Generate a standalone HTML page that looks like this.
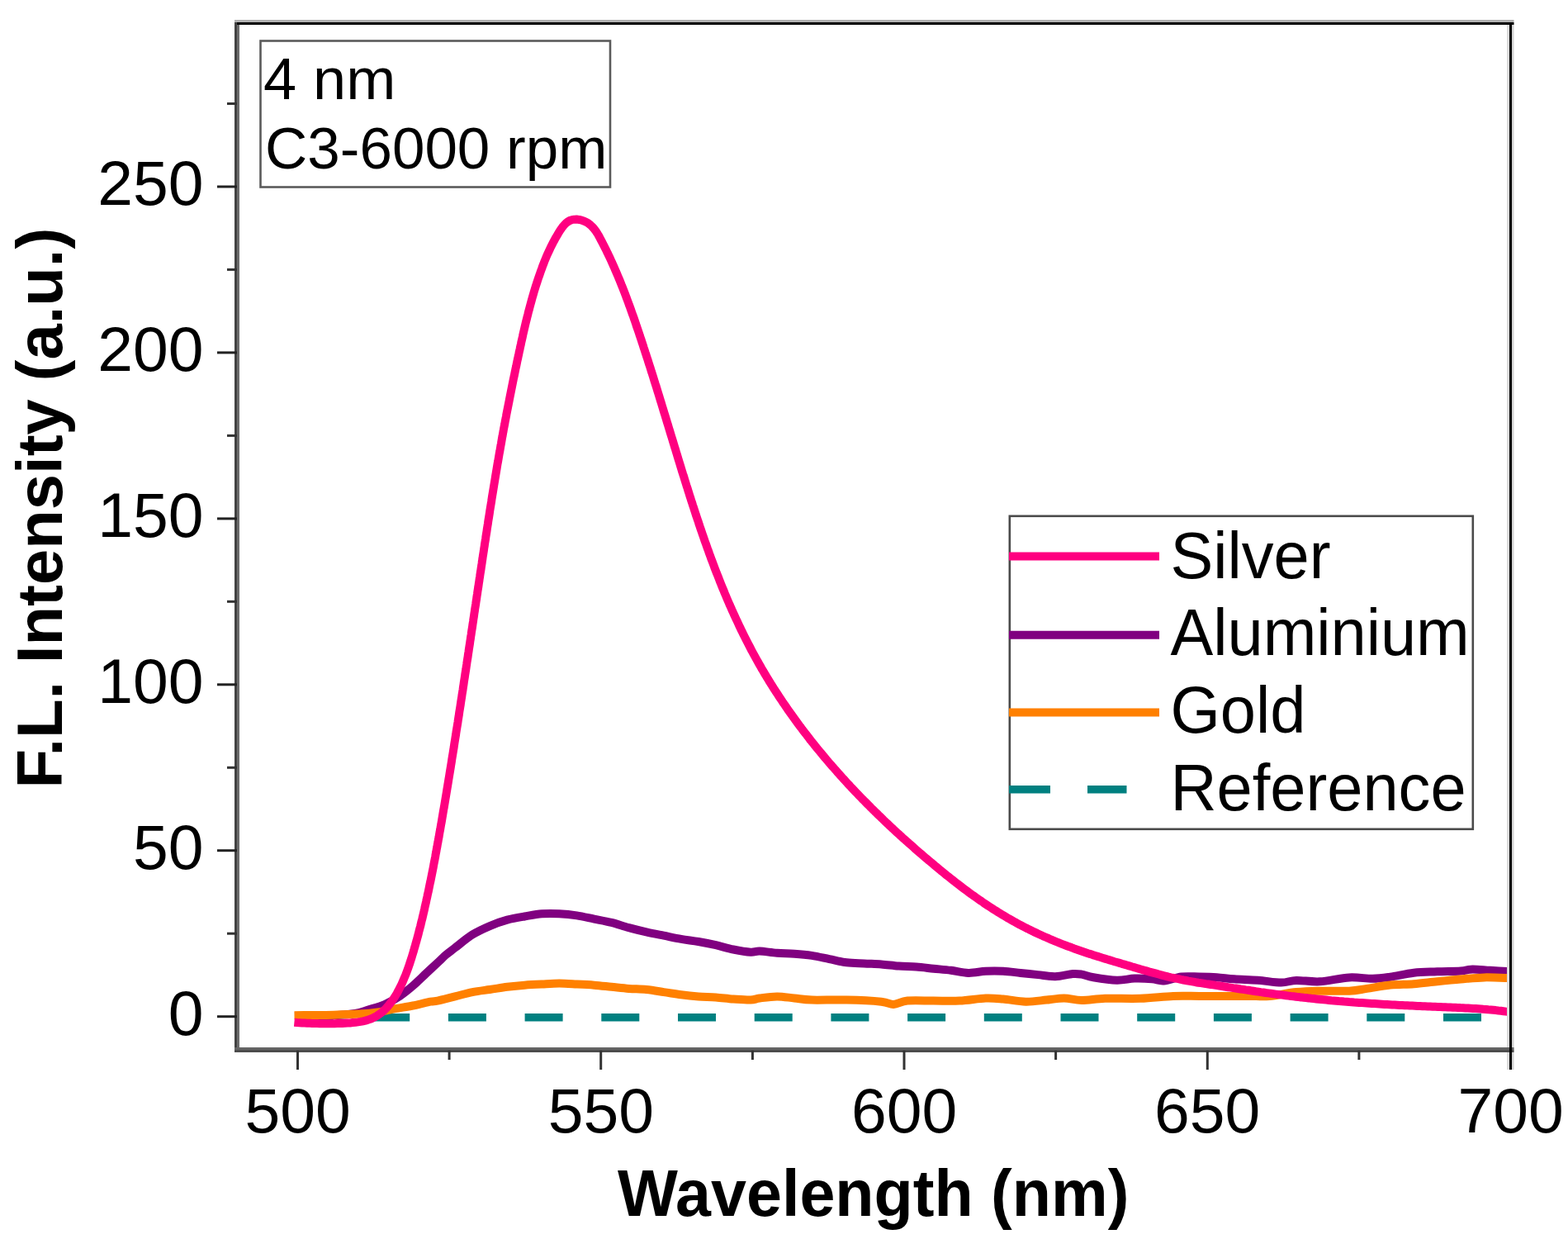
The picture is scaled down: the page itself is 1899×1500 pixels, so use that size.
<!DOCTYPE html><html><head><meta charset="utf-8"><title>F.L. Intensity vs Wavelength</title><style>
html,body{margin:0;padding:0;background:#fff;}body{width:1899px;height:1500px;overflow:hidden;}
svg{display:block;}text{font-family:"Liberation Sans", Arial, sans-serif;fill:#000;}
.tl{font-size:75px;}.ti{font-size:75px;font-weight:bold;}.lg{font-size:75px;}.in{font-size:71px;}
</style></head><body>
<svg width="1899" height="1500" viewBox="0 0 1899 1500">
<rect x="0" y="0" width="1899" height="1500" fill="#fff"/>
<g fill="none" stroke-linejoin="round">
<path d="M357.5,1231.7 L1830,1231.7" stroke="#008080" stroke-width="9.5" stroke-dasharray="46 46.7"/>
<path d="M357.0,1230.0 C364.2,1229.9 387.8,1230.0 400.0,1229.5 C412.2,1229.0 422.2,1228.2 430.0,1227.0 C437.8,1225.8 440.7,1224.1 446.7,1222.3 C452.7,1220.5 459.8,1218.7 466.0,1216.0 C472.2,1213.3 478.3,1209.8 484.0,1206.0 C489.7,1202.2 494.7,1198.1 500.0,1193.5 C505.3,1188.9 510.7,1183.5 516.0,1178.5 C521.3,1173.5 528.0,1167.3 532.0,1163.6 C536.0,1159.8 536.8,1158.7 540.0,1156.0 C543.2,1153.3 545.8,1151.5 551.1,1147.4 C556.5,1143.3 565.1,1136.0 572.1,1131.6 C579.1,1127.2 586.2,1124.1 593.2,1121.1 C600.2,1118.1 607.3,1115.6 614.3,1113.7 C621.3,1111.8 628.3,1110.7 635.3,1109.5 C642.3,1108.3 649.4,1106.8 656.4,1106.3 C663.4,1105.8 670.4,1105.9 677.4,1106.3 C684.4,1106.7 691.5,1107.4 698.5,1108.4 C705.5,1109.5 712.6,1111.2 719.6,1112.6 C726.6,1114.0 733.6,1115.1 740.6,1116.9 C747.6,1118.7 754.7,1121.3 761.7,1123.2 C768.7,1125.1 775.8,1126.8 782.8,1128.4 C789.8,1130.0 796.8,1131.3 803.8,1132.7 C810.8,1134.1 817.9,1135.7 824.9,1136.9 C831.9,1138.1 838.9,1138.8 845.9,1140.0 C852.9,1141.2 860.0,1142.6 867.0,1144.2 C874.0,1145.8 881.1,1148.1 888.1,1149.5 C895.1,1150.9 903.8,1152.4 909.1,1152.7 C914.4,1153.0 914.7,1151.4 920.0,1151.6 C925.3,1151.8 934.1,1153.2 941.1,1153.7 C948.1,1154.2 955.1,1154.3 962.1,1154.8 C969.1,1155.3 976.2,1155.9 983.2,1156.9 C990.2,1158.0 997.3,1159.7 1004.3,1161.1 C1011.3,1162.5 1018.3,1164.4 1025.3,1165.3 C1032.3,1166.2 1039.4,1166.1 1046.4,1166.4 C1053.4,1166.8 1060.4,1166.9 1067.4,1167.4 C1074.4,1167.9 1081.5,1169.0 1088.5,1169.5 C1095.5,1170.0 1102.6,1170.1 1109.6,1170.6 C1116.6,1171.1 1123.6,1172.0 1130.6,1172.7 C1137.6,1173.4 1144.7,1173.9 1151.7,1174.8 C1158.7,1175.7 1165.8,1177.7 1172.8,1177.9 C1179.8,1178.1 1186.8,1176.2 1193.8,1175.8 C1200.8,1175.4 1207.9,1175.4 1214.9,1175.8 C1221.9,1176.2 1229.0,1177.2 1236.0,1177.9 C1243.0,1178.6 1250.0,1179.4 1257.0,1180.1 C1264.0,1180.8 1271.1,1182.4 1278.1,1182.2 C1285.1,1182.0 1293.8,1179.4 1299.1,1179.0 C1304.4,1178.6 1305.8,1178.9 1310.0,1179.6 C1314.2,1180.3 1317.1,1182.0 1324.2,1183.2 C1331.3,1184.4 1344.4,1186.5 1352.7,1186.7 C1361.0,1186.9 1366.9,1184.8 1374.0,1184.6 C1381.1,1184.4 1389.4,1184.8 1395.3,1185.3 C1401.2,1185.8 1403.6,1187.9 1409.5,1187.4 C1415.4,1186.9 1423.8,1183.3 1430.9,1182.5 C1438.0,1181.7 1445.1,1182.4 1452.2,1182.5 C1459.3,1182.6 1466.4,1182.7 1473.5,1183.2 C1480.6,1183.7 1486.5,1184.7 1494.8,1185.3 C1503.1,1185.9 1513.8,1186.0 1523.3,1186.7 C1532.8,1187.4 1543.9,1189.6 1551.7,1189.6 C1559.5,1189.6 1562.2,1187.1 1570.0,1186.9 C1577.8,1186.7 1587.7,1188.9 1598.4,1188.3 C1609.1,1187.7 1623.3,1184.0 1634.0,1183.4 C1644.7,1182.8 1654.1,1184.9 1662.4,1184.8 C1670.7,1184.7 1675.4,1183.9 1683.7,1182.7 C1692.0,1181.5 1702.7,1178.8 1712.2,1177.7 C1721.7,1176.6 1731.1,1176.7 1740.6,1176.3 C1750.1,1175.9 1762.0,1176.0 1769.1,1175.5 C1776.2,1175.0 1777.4,1173.5 1783.3,1173.4 C1789.2,1173.3 1796.8,1174.3 1804.6,1174.8 C1812.4,1175.3 1825.8,1176.0 1830.0,1176.3" stroke="#800080" stroke-width="10"/>
<path d="M356.5,1229.2 C364.4,1229.1 390.8,1229.0 404.0,1228.7 C417.2,1228.4 427.1,1228.1 436.0,1227.6 C444.9,1227.1 450.2,1226.6 457.3,1225.5 C464.4,1224.4 471.6,1222.5 478.7,1221.2 C485.8,1219.9 492.9,1218.9 500.0,1217.5 C507.1,1216.1 516.3,1213.7 521.3,1212.7 C526.3,1211.7 525.0,1212.6 530.0,1211.6 C535.0,1210.5 544.1,1208.2 551.1,1206.4 C558.1,1204.7 565.1,1202.5 572.1,1201.1 C579.1,1199.7 586.2,1199.0 593.2,1198.0 C600.2,1197.0 607.3,1195.7 614.3,1194.8 C621.3,1193.9 628.3,1193.2 635.3,1192.7 C642.3,1192.2 649.4,1191.9 656.4,1191.6 C663.4,1191.2 670.4,1190.6 677.4,1190.6 C684.4,1190.6 691.5,1191.2 698.5,1191.6 C705.5,1191.9 712.6,1192.2 719.6,1192.7 C726.6,1193.2 733.6,1194.1 740.6,1194.8 C747.6,1195.5 754.7,1196.4 761.7,1196.9 C768.7,1197.4 775.8,1197.3 782.8,1198.0 C789.8,1198.7 796.8,1200.0 803.8,1201.1 C810.8,1202.1 817.9,1203.4 824.9,1204.3 C831.9,1205.2 838.9,1205.9 845.9,1206.4 C852.9,1206.9 860.0,1206.9 867.0,1207.4 C874.0,1207.9 881.1,1209.0 888.1,1209.5 C895.1,1210.0 903.8,1210.8 909.1,1210.6 C914.4,1210.4 914.7,1209.2 920.0,1208.5 C925.3,1207.8 934.1,1206.4 941.1,1206.4 C948.1,1206.4 955.1,1207.8 962.1,1208.5 C969.1,1209.2 972.7,1210.2 983.2,1210.6 C993.7,1210.9 1011.3,1210.2 1025.3,1210.6 C1039.3,1210.9 1057.9,1211.8 1067.4,1212.7 C1076.9,1213.6 1076.9,1216.1 1082.2,1215.9 C1087.5,1215.7 1090.9,1212.3 1099.0,1211.6 C1107.1,1210.9 1120.1,1211.6 1130.6,1211.6 C1141.1,1211.6 1151.7,1212.1 1162.2,1211.6 C1172.7,1211.1 1185.0,1208.8 1193.8,1208.5 C1202.6,1208.2 1206.8,1208.8 1214.9,1209.5 C1223.0,1210.2 1233.5,1212.5 1242.3,1212.7 C1251.1,1212.9 1259.9,1211.3 1267.6,1210.6 C1275.3,1209.9 1281.5,1208.5 1288.6,1208.5 C1295.7,1208.5 1301.7,1210.9 1310.0,1210.9 C1318.3,1211.0 1326.6,1209.2 1338.4,1208.8 C1350.2,1208.4 1367.3,1209.3 1381.1,1208.8 C1394.8,1208.3 1409.1,1206.4 1420.9,1205.9 C1432.8,1205.4 1442.2,1205.9 1452.2,1205.9 C1462.2,1205.9 1470.6,1205.9 1480.6,1205.9 C1490.5,1205.9 1502.4,1205.9 1511.9,1205.9 C1521.4,1205.9 1527.8,1206.8 1537.5,1206.0 C1547.2,1205.2 1559.8,1202.1 1570.0,1201.1 C1580.2,1200.0 1587.7,1199.9 1598.4,1199.7 C1609.1,1199.5 1624.5,1200.2 1634.0,1199.7 C1643.5,1199.2 1647.0,1198.1 1655.3,1196.9 C1663.6,1195.7 1674.2,1193.5 1683.7,1192.6 C1693.2,1191.6 1702.7,1191.9 1712.2,1191.2 C1721.7,1190.5 1731.1,1189.2 1740.6,1188.3 C1750.1,1187.3 1759.6,1186.3 1769.1,1185.5 C1778.6,1184.7 1787.3,1183.6 1797.5,1183.4 C1807.7,1183.2 1824.6,1184.0 1830.0,1184.1" stroke="#ff8000" stroke-width="10"/>
<path d="M356.4,1237.7 L359.6,1238.0 L362.7,1238.2 L365.8,1238.4 L368.9,1238.5 L372.0,1238.7 L375.0,1238.8 L378.1,1238.9 L381.1,1239.0 L384.1,1239.1 L387.1,1239.2 L390.2,1239.2 L393.2,1239.2 L396.2,1239.3 L399.2,1239.2 L402.3,1239.2 L405.3,1239.2 L408.4,1239.1 L411.5,1239.0 L414.6,1238.9 L417.7,1238.8 L420.9,1238.6 L424.1,1238.4 L427.2,1238.1 L430.4,1237.8 L433.5,1237.4 L436.6,1236.9 L439.6,1236.3 L442.6,1235.6 L445.6,1234.7 L448.4,1233.8 L451.2,1232.6 L453.8,1231.3 L456.4,1229.9 L458.9,1228.2 L461.3,1226.5 L463.6,1224.6 L465.8,1222.5 L467.9,1220.4 L469.9,1218.1 L471.8,1215.8 L473.7,1213.4 L475.5,1210.9 L477.2,1208.3 L478.9,1205.6 L480.5,1203.0 L482.0,1200.3 L483.4,1197.5 L484.8,1194.7 L486.2,1192.0 L487.5,1189.1 L488.7,1186.3 L489.9,1183.4 L491.1,1180.6 L492.2,1177.7 L493.3,1174.8 L494.4,1171.8 L495.4,1168.9 L496.4,1166.0 L497.3,1163.0 L498.3,1160.1 L499.2,1157.1 L500.1,1154.1 L501.0,1151.2 L501.8,1148.2 L502.7,1145.2 L503.5,1142.3 L504.4,1139.3 L505.2,1136.3 L506.0,1133.4 L506.8,1130.4 L507.5,1127.4 L508.3,1124.4 L509.1,1121.5 L509.8,1118.5 L510.5,1115.5 L511.3,1112.5 L512.0,1109.5 L512.7,1106.6 L513.4,1103.6 L514.1,1100.6 L514.7,1097.6 L515.4,1094.6 L516.1,1091.6 L516.7,1088.6 L517.4,1085.6 L518.0,1082.6 L518.7,1079.7 L519.3,1076.7 L519.9,1073.7 L520.5,1070.7 L521.2,1067.7 L521.8,1064.7 L522.4,1061.7 L523.0,1058.7 L523.6,1055.7 L524.2,1052.7 L524.8,1049.7 L525.3,1046.7 L525.9,1043.7 L526.5,1040.7 L527.1,1037.6 L527.6,1034.6 L528.2,1031.6 L528.7,1028.6 L529.3,1025.6 L529.8,1022.6 L530.4,1019.6 L530.9,1016.6 L531.5,1013.6 L532.0,1010.5 L532.5,1007.5 L533.1,1004.5 L533.6,1001.5 L534.1,998.5 L534.7,995.5 L535.2,992.4 L535.7,989.4 L536.2,986.4 L536.7,983.4 L537.2,980.4 L537.8,977.3 L538.3,974.3 L538.8,971.3 L539.3,968.3 L539.8,965.2 L540.3,962.2 L540.8,959.2 L541.3,956.1 L541.8,953.1 L542.3,950.1 L542.8,947.1 L543.3,944.0 L543.8,941.0 L544.3,938.0 L544.8,934.9 L545.3,931.9 L545.8,928.9 L546.3,925.8 L546.8,922.8 L547.2,919.8 L547.7,916.7 L548.2,913.7 L548.7,910.7 L549.2,907.6 L549.7,904.6 L550.1,901.6 L550.6,898.5 L551.1,895.5 L551.6,892.4 L552.1,889.4 L552.5,886.4 L553.0,883.3 L553.5,880.3 L554.0,877.2 L554.5,874.2 L554.9,871.2 L555.4,868.1 L555.9,865.1 L556.3,862.0 L556.8,859.0 L557.3,856.0 L557.8,852.9 L558.2,849.9 L558.7,846.8 L559.2,843.8 L559.6,840.7 L560.1,837.7 L560.6,834.7 L561.0,831.6 L561.5,828.6 L561.9,825.5 L562.4,822.5 L562.9,819.4 L563.3,816.4 L563.8,813.4 L564.3,810.3 L564.7,807.3 L565.2,804.2 L565.6,801.2 L566.1,798.1 L566.6,795.1 L567.0,792.0 L567.5,789.0 L567.9,786.0 L568.4,782.9 L568.9,779.9 L569.3,776.8 L569.8,773.8 L570.2,770.7 L570.7,767.7 L571.1,764.6 L571.6,761.6 L572.1,758.6 L572.5,755.5 L573.0,752.5 L573.4,749.4 L573.9,746.4 L574.3,743.3 L574.8,740.3 L575.2,737.2 L575.7,734.2 L576.2,731.2 L576.6,728.1 L577.1,725.1 L577.5,722.0 L578.0,719.0 L578.4,716.0 L578.9,712.9 L579.4,709.9 L579.8,706.8 L580.3,703.8 L580.7,700.7 L581.2,697.7 L581.6,694.7 L582.1,691.6 L582.6,688.6 L583.0,685.6 L583.5,682.5 L583.9,679.5 L584.4,676.4 L584.8,673.4 L585.3,670.4 L585.8,667.3 L586.2,664.3 L586.7,661.3 L587.1,658.2 L587.6,655.2 L588.1,652.2 L588.5,649.1 L589.0,646.1 L589.5,643.1 L589.9,640.0 L590.4,637.0 L590.9,634.0 L591.3,630.9 L591.8,627.9 L592.3,624.9 L592.8,621.8 L593.2,618.8 L593.7,615.8 L594.2,612.7 L594.7,609.7 L595.2,606.7 L595.6,603.7 L596.1,600.6 L596.6,597.6 L597.1,594.6 L597.6,591.6 L598.1,588.5 L598.6,585.5 L599.1,582.5 L599.6,579.5 L600.1,576.4 L600.6,573.4 L601.1,570.4 L601.6,567.4 L602.1,564.3 L602.6,561.3 L603.2,558.3 L603.7,555.3 L604.2,552.2 L604.7,549.2 L605.3,546.2 L605.8,543.2 L606.3,540.2 L606.9,537.1 L607.4,534.1 L607.9,531.1 L608.5,528.1 L609.0,525.1 L609.6,522.0 L610.1,519.0 L610.7,516.0 L611.3,513.0 L611.8,510.0 L612.4,507.0 L613.0,503.9 L613.5,500.9 L614.1,497.9 L614.7,494.9 L615.3,491.9 L615.9,488.9 L616.5,485.9 L617.1,482.8 L617.7,479.8 L618.3,476.8 L618.9,473.8 L619.5,470.8 L620.1,467.8 L620.7,464.8 L621.3,461.8 L621.9,458.7 L622.6,455.7 L623.2,452.7 L623.8,449.7 L624.4,446.7 L625.1,443.7 L625.7,440.7 L626.3,437.7 L627.0,434.7 L627.6,431.7 L628.3,428.6 L628.9,425.6 L629.6,422.6 L630.2,419.6 L630.9,416.6 L631.5,413.6 L632.2,410.6 L632.9,407.6 L633.5,404.6 L634.2,401.6 L634.9,398.6 L635.6,395.6 L636.3,392.6 L637.0,389.6 L637.8,386.7 L638.5,383.7 L639.3,380.7 L640.0,377.7 L640.8,374.8 L641.6,371.8 L642.4,368.8 L643.2,365.9 L644.0,362.9 L644.8,360.0 L645.7,357.0 L646.5,354.1 L647.4,351.1 L648.3,348.2 L649.2,345.3 L650.2,342.4 L651.1,339.5 L652.1,336.5 L653.1,333.7 L654.1,330.8 L655.1,327.9 L656.2,325.0 L657.2,322.1 L658.3,319.3 L659.4,316.4 L660.6,313.6 L661.8,310.7 L663.0,307.9 L664.3,305.1 L665.6,302.3 L666.9,299.5 L668.3,296.7 L669.7,293.9 L671.2,291.2 L672.7,288.4 L674.3,285.7 L675.9,282.9 L677.6,280.2 L679.3,277.6 L681.1,275.0 L683.1,272.6 L685.2,270.4 L687.4,268.6 L689.9,267.1 L692.6,266.2 L695.4,265.7 L698.4,265.6 L701.4,265.9 L704.4,266.6 L707.4,267.7 L710.2,269.0 L712.8,270.6 L715.2,272.5 L717.4,274.6 L719.4,276.9 L721.3,279.3 L723.0,281.9 L724.6,284.5 L726.1,287.2 L727.5,290.0 L729.0,292.7 L730.4,295.5 L731.8,298.3 L733.2,301.1 L734.6,303.8 L735.9,306.6 L737.3,309.4 L738.6,312.2 L739.9,315.0 L741.2,317.8 L742.4,320.6 L743.7,323.4 L744.9,326.2 L746.1,329.0 L747.3,331.8 L748.5,334.6 L749.7,337.5 L750.9,340.3 L752.0,343.1 L753.1,346.0 L754.3,348.8 L755.4,351.6 L756.5,354.5 L757.6,357.3 L758.6,360.2 L759.7,363.0 L760.8,365.9 L761.8,368.8 L762.9,371.6 L763.9,374.5 L764.9,377.4 L765.9,380.2 L767.0,383.1 L768.0,386.0 L769.0,388.9 L770.0,391.8 L770.9,394.7 L771.9,397.5 L772.9,400.4 L773.9,403.3 L774.8,406.2 L775.8,409.1 L776.8,412.0 L777.7,414.9 L778.7,417.8 L779.6,420.8 L780.6,423.7 L781.5,426.6 L782.5,429.5 L783.4,432.4 L784.4,435.3 L785.3,438.3 L786.2,441.2 L787.2,444.1 L788.1,447.0 L789.0,450.0 L790.0,452.9 L790.9,455.8 L791.8,458.7 L792.7,461.7 L793.6,464.6 L794.6,467.5 L795.5,470.5 L796.4,473.4 L797.3,476.4 L798.2,479.3 L799.1,482.2 L800.0,485.2 L800.9,488.1 L801.8,491.1 L802.7,494.0 L803.6,497.0 L804.5,499.9 L805.4,502.8 L806.3,505.8 L807.2,508.7 L808.1,511.7 L809.0,514.6 L809.9,517.6 L810.8,520.5 L811.7,523.5 L812.6,526.4 L813.5,529.4 L814.4,532.3 L815.3,535.3 L816.2,538.2 L817.1,541.2 L818.0,544.1 L818.9,547.1 L819.8,550.0 L820.7,553.0 L821.6,555.9 L822.5,558.9 L823.4,561.8 L824.3,564.8 L825.2,567.7 L826.1,570.7 L827.0,573.6 L828.0,576.5 L828.9,579.5 L829.8,582.4 L830.7,585.4 L831.6,588.3 L832.6,591.2 L833.5,594.2 L834.4,597.1 L835.3,600.1 L836.3,603.0 L837.2,605.9 L838.2,608.9 L839.1,611.8 L840.1,614.7 L841.0,617.6 L842.0,620.6 L842.9,623.5 L843.9,626.4 L844.9,629.3 L845.9,632.2 L846.8,635.2 L847.8,638.1 L848.8,641.0 L849.8,643.9 L850.8,646.8 L851.8,649.7 L852.8,652.6 L853.8,655.5 L854.9,658.4 L855.9,661.3 L856.9,664.2 L858.0,667.1 L859.0,670.0 L860.1,672.9 L861.1,675.8 L862.2,678.6 L863.3,681.5 L864.4,684.4 L865.4,687.3 L866.5,690.1 L867.6,693.0 L868.8,695.9 L869.9,698.7 L871.0,701.6 L872.1,704.4 L873.3,707.3 L874.4,710.1 L875.6,713.0 L876.8,715.8 L877.9,718.6 L879.1,721.4 L880.3,724.3 L881.5,727.1 L882.7,729.9 L883.9,732.7 L885.2,735.5 L886.4,738.3 L887.7,741.1 L888.9,743.9 L890.2,746.7 L891.5,749.5 L892.8,752.2 L894.1,755.0 L895.4,757.8 L896.7,760.5 L898.0,763.3 L899.4,766.1 L900.7,768.8 L902.1,771.5 L903.5,774.3 L904.9,777.0 L906.3,779.7 L907.7,782.4 L909.1,785.1 L910.5,787.9 L912.0,790.6 L913.4,793.2 L914.9,795.9 L916.4,798.6 L917.9,801.3 L919.4,804.0 L920.9,806.6 L922.4,809.3 L924.0,811.9 L925.6,814.6 L927.1,817.2 L928.7,819.8 L930.3,822.4 L931.9,825.1 L933.5,827.7 L935.2,830.3 L936.8,832.9 L938.5,835.5 L940.1,838.0 L941.8,840.6 L943.5,843.2 L945.2,845.8 L946.9,848.3 L948.6,850.9 L950.4,853.4 L952.1,855.9 L953.8,858.5 L955.6,861.0 L957.4,863.5 L959.2,866.0 L961.0,868.5 L962.8,871.0 L964.6,873.5 L966.4,876.0 L968.2,878.4 L970.1,880.9 L971.9,883.4 L973.8,885.8 L975.7,888.3 L977.6,890.7 L979.4,893.1 L981.3,895.6 L983.2,898.0 L985.2,900.4 L987.1,902.8 L989.0,905.2 L991.0,907.6 L992.9,909.9 L994.9,912.3 L996.9,914.7 L998.8,917.0 L1000.8,919.4 L1002.8,921.7 L1004.8,924.1 L1006.8,926.4 L1008.8,928.7 L1010.9,931.0 L1012.9,933.3 L1014.9,935.6 L1017.0,937.9 L1019.0,940.2 L1021.1,942.5 L1023.2,944.7 L1025.2,947.0 L1027.3,949.3 L1029.4,951.5 L1031.5,953.8 L1033.6,956.0 L1035.7,958.2 L1037.8,960.4 L1040.0,962.7 L1042.1,964.9 L1044.2,967.1 L1046.4,969.3 L1048.5,971.4 L1050.7,973.6 L1052.9,975.8 L1055.0,978.0 L1057.2,980.1 L1059.4,982.3 L1061.6,984.4 L1063.8,986.6 L1066.0,988.7 L1068.2,990.8 L1070.4,993.0 L1072.6,995.1 L1074.9,997.2 L1077.1,999.3 L1079.3,1001.4 L1081.6,1003.5 L1083.8,1005.6 L1086.1,1007.7 L1088.4,1009.7 L1090.6,1011.8 L1092.9,1013.9 L1095.2,1015.9 L1097.5,1018.0 L1099.8,1020.0 L1102.1,1022.1 L1104.4,1024.1 L1106.7,1026.1 L1109.0,1028.2 L1111.3,1030.2 L1113.6,1032.2 L1116.0,1034.2 L1118.3,1036.2 L1120.6,1038.2 L1123.0,1040.2 L1125.3,1042.2 L1127.7,1044.1 L1130.0,1046.1 L1132.4,1048.1 L1134.8,1050.0 L1137.1,1052.0 L1139.5,1054.0 L1141.9,1055.9 L1144.3,1057.8 L1146.7,1059.8 L1149.1,1061.7 L1151.5,1063.6 L1153.9,1065.5 L1156.3,1067.4 L1158.7,1069.3 L1161.2,1071.1 L1163.6,1073.0 L1166.1,1074.9 L1168.5,1076.7 L1171.0,1078.5 L1173.5,1080.4 L1175.9,1082.2 L1178.4,1084.0 L1180.9,1085.7 L1183.4,1087.5 L1186.0,1089.3 L1188.5,1091.0 L1191.0,1092.8 L1193.5,1094.5 L1196.1,1096.2 L1198.7,1097.9 L1201.2,1099.5 L1203.8,1101.2 L1206.4,1102.8 L1209.0,1104.5 L1211.6,1106.1 L1214.2,1107.7 L1216.9,1109.2 L1219.5,1110.8 L1222.2,1112.3 L1224.9,1113.9 L1227.5,1115.4 L1230.2,1116.8 L1232.9,1118.3 L1235.6,1119.8 L1238.4,1121.2 L1241.1,1122.6 L1243.8,1124.0 L1246.6,1125.4 L1249.4,1126.7 L1252.1,1128.1 L1254.9,1129.4 L1257.7,1130.7 L1260.5,1132.0 L1263.3,1133.3 L1266.1,1134.5 L1268.9,1135.7 L1271.8,1137.0 L1274.6,1138.2 L1277.4,1139.3 L1280.3,1140.5 L1283.1,1141.7 L1286.0,1142.8 L1288.8,1143.9 L1291.7,1145.0 L1294.6,1146.1 L1297.5,1147.1 L1300.3,1148.2 L1303.2,1149.2 L1306.1,1150.2 L1309.0,1151.2 L1311.9,1152.2 L1314.8,1153.2 L1317.7,1154.2 L1320.6,1155.1 L1323.5,1156.1 L1326.4,1157.0 L1329.4,1157.9 L1332.3,1158.8 L1335.2,1159.7 L1338.1,1160.6 L1341.1,1161.5 L1344.0,1162.4 L1346.9,1163.3 L1349.9,1164.2 L1352.8,1165.0 L1355.8,1165.9 L1358.7,1166.8 L1361.7,1167.6 L1364.6,1168.5 L1367.6,1169.4 L1370.6,1170.3 L1373.5,1171.1 L1376.5,1172.0 L1379.5,1172.9 L1382.4,1173.7 L1385.4,1174.6 L1388.4,1175.4 L1391.3,1176.3 L1394.3,1177.1 L1397.3,1177.9 L1400.3,1178.7 L1403.3,1179.5 L1406.3,1180.3 L1409.3,1181.1 L1412.2,1181.8 L1415.2,1182.6 L1418.2,1183.3 L1421.2,1183.9 L1424.2,1184.6 L1427.2,1185.2 L1430.2,1185.9 L1433.2,1186.5 L1436.2,1187.0 L1439.2,1187.6 L1442.2,1188.1 L1445.3,1188.6 L1448.3,1189.2 L1451.3,1189.7 L1454.3,1190.1 L1457.3,1190.6 L1460.3,1191.1 L1463.3,1191.5 L1466.4,1192.0 L1469.4,1192.4 L1472.4,1192.9 L1475.4,1193.3 L1478.4,1193.8 L1481.5,1194.2 L1484.5,1194.7 L1487.5,1195.2 L1490.5,1195.6 L1493.6,1196.1 L1496.6,1196.5 L1499.6,1197.0 L1502.7,1197.5 L1505.7,1197.9 L1508.7,1198.4 L1511.8,1198.8 L1514.8,1199.3 L1517.8,1199.7 L1520.9,1200.2 L1523.9,1200.6 L1527.0,1201.1 L1530.0,1201.5 L1533.0,1202.0 L1536.1,1202.4 L1539.1,1202.8 L1542.2,1203.2 L1545.2,1203.6 L1548.3,1204.0 L1551.3,1204.4 L1554.4,1204.8 L1557.4,1205.2 L1560.5,1205.6 L1563.5,1206.0 L1566.6,1206.3 L1569.6,1206.7 L1572.7,1207.1 L1575.7,1207.4 L1578.8,1207.8 L1581.8,1208.1 L1584.9,1208.4 L1588.0,1208.8 L1591.0,1209.1 L1594.1,1209.4 L1597.1,1209.7 L1600.2,1210.0 L1603.3,1210.3 L1606.3,1210.6 L1609.4,1210.9 L1612.4,1211.2 L1615.5,1211.4 L1618.6,1211.7 L1621.6,1212.0 L1624.7,1212.2 L1627.7,1212.5 L1630.8,1212.7 L1633.9,1213.0 L1636.9,1213.2 L1640.0,1213.5 L1643.1,1213.7 L1646.1,1213.9 L1649.2,1214.1 L1652.3,1214.3 L1655.3,1214.5 L1658.4,1214.7 L1661.5,1214.9 L1664.5,1215.1 L1667.6,1215.3 L1670.7,1215.5 L1673.7,1215.7 L1676.8,1215.9 L1679.9,1216.0 L1682.9,1216.2 L1686.0,1216.4 L1689.1,1216.5 L1692.1,1216.7 L1695.2,1216.9 L1698.3,1217.0 L1701.3,1217.2 L1704.4,1217.3 L1707.5,1217.5 L1710.5,1217.6 L1713.6,1217.7 L1716.7,1217.9 L1719.8,1218.0 L1722.8,1218.2 L1725.9,1218.3 L1729.0,1218.4 L1732.0,1218.5 L1735.1,1218.7 L1738.2,1218.8 L1741.2,1218.9 L1744.3,1219.0 L1747.4,1219.2 L1750.4,1219.3 L1753.5,1219.4 L1756.5,1219.5 L1759.6,1219.7 L1762.7,1219.8 L1765.7,1219.9 L1768.8,1220.1 L1771.9,1220.2 L1774.9,1220.4 L1778.0,1220.5 L1781.1,1220.7 L1784.1,1220.9 L1787.2,1221.1 L1790.2,1221.3 L1793.3,1221.5 L1796.4,1221.8 L1799.4,1222.0 L1802.5,1222.3 L1805.5,1222.5 L1808.6,1222.8 L1811.6,1223.1 L1814.7,1223.5 L1817.8,1223.8 L1820.8,1224.2 L1823.9,1224.6 L1826.9,1225.0 L1830.0,1225.5" stroke="#ff0080" stroke-width="10"/>
</g>
<rect x="284" y="24" width="1547" height="3" fill="#b0b0b0"/>
<rect x="284" y="27" width="1547" height="3" fill="#000"/>
<rect x="284" y="27" width="3" height="1247" fill="#424242"/>
<rect x="287" y="30" width="3" height="1244" fill="#6b6b6b"/>
<rect x="1825" y="30" width="3" height="1265" fill="#dcdcdc"/>
<rect x="1831" y="30" width="2.5" height="1265" fill="#d4d4d4"/>
<rect x="1828" y="27" width="5.5" height="3" fill="#000"/>
<rect x="1828" y="24" width="5.5" height="3" fill="#b0b0b0"/>
<rect x="284" y="1268" width="1549.5" height="3" fill="#646464"/>
<rect x="284" y="1271" width="1549.5" height="3" fill="#4c4c4c"/>
<rect x="263" y="1229.2" width="24" height="3" fill="#222"/>
<text class="tl" transform="translate(246.5,1252.7) scale(1.025,1.015)" text-anchor="end">0</text>
<rect x="275" y="1128.7" width="12" height="3" fill="#333"/>
<rect x="263" y="1028.2" width="24" height="3" fill="#222"/>
<text class="tl" transform="translate(246.5,1051.8) scale(1.025,1.015)" text-anchor="end">50</text>
<rect x="275" y="927.8" width="12" height="3" fill="#333"/>
<rect x="263" y="827.3" width="24" height="3" fill="#222"/>
<text class="tl" transform="translate(246.5,850.8) scale(1.025,1.015)" text-anchor="end">100</text>
<rect x="275" y="726.8" width="12" height="3" fill="#333"/>
<rect x="263" y="626.4" width="24" height="3" fill="#222"/>
<text class="tl" transform="translate(246.5,649.9) scale(1.025,1.015)" text-anchor="end">150</text>
<rect x="275" y="525.9" width="12" height="3" fill="#333"/>
<rect x="263" y="425.4" width="24" height="3" fill="#222"/>
<text class="tl" transform="translate(246.5,448.9) scale(1.025,1.015)" text-anchor="end">200</text>
<rect x="275" y="324.9" width="12" height="3" fill="#333"/>
<rect x="263" y="224.5" width="24" height="3" fill="#222"/>
<text class="tl" transform="translate(246.5,248.0) scale(1.025,1.015)" text-anchor="end">250</text>
<rect x="275" y="124.0" width="12" height="3" fill="#333"/>
<rect x="359.0" y="1272" width="3" height="23" fill="#333"/>
<text class="tl" transform="translate(360.5,1370.5) scale(1.025,1.015)" text-anchor="middle">500</text>
<rect x="542.6" y="1272" width="3" height="11" fill="#333"/>
<rect x="726.2" y="1272" width="3" height="23" fill="#333"/>
<text class="tl" transform="translate(727.8,1370.5) scale(1.025,1.015)" text-anchor="middle">550</text>
<rect x="909.9" y="1272" width="3" height="11" fill="#333"/>
<rect x="1093.5" y="1272" width="3" height="23" fill="#333"/>
<text class="tl" transform="translate(1095.0,1370.5) scale(1.025,1.015)" text-anchor="middle">600</text>
<rect x="1277.1" y="1272" width="3" height="11" fill="#333"/>
<rect x="1460.8" y="1272" width="3" height="23" fill="#333"/>
<text class="tl" transform="translate(1462.2,1370.5) scale(1.025,1.015)" text-anchor="middle">650</text>
<rect x="1644.4" y="1272" width="3" height="11" fill="#333"/>
<rect x="1828.0" y="1272" width="3" height="23" fill="#333"/>
<text class="tl" transform="translate(1829.5,1370.5) scale(1.025,1.015)" text-anchor="middle">700</text>
<rect x="1828" y="27" width="3" height="1268" fill="#000"/>
<text class="ti" transform="translate(748,1472) scale(1.03,1.05)">Wavelength (nm)</text>
<text class="ti" transform="translate(74.5,954.5) rotate(-90) scale(1.038,1.04)">F.L. Intensity (a.u.)</text>
<rect x="315.5" y="49.5" width="423.5" height="177" fill="none" stroke="#5a5a5a" stroke-width="2.6"/>
<text class="in" transform="translate(319,119.5) scale(1.015,1.0)">4 nm</text>
<text class="in" transform="translate(321,203.5) scale(1.0,1.0)">C3-6000 rpm</text>
<rect x="1222.8" y="624.8" width="561" height="379" fill="#fff" stroke="#4a4a4a" stroke-width="2.6"/>
<line x1="1222" y1="673.5" x2="1404" y2="673.5" stroke="#ff0080" stroke-width="10"/>
<line x1="1222" y1="768.8" x2="1404" y2="768.8" stroke="#800080" stroke-width="10"/>
<line x1="1222" y1="862.5" x2="1404" y2="862.5" stroke="#ff8000" stroke-width="10"/>
<line x1="1222" y1="955.8" x2="1364.5" y2="955.8" stroke="#008080" stroke-width="9.5" stroke-dasharray="50 45"/>
<text class="lg" transform="translate(1417.5,699.5) scale(1.035,1.06)">Silver</text>
<text class="lg" transform="translate(1417.5,793.3) scale(1.035,1.06)">Aluminium</text>
<text class="lg" transform="translate(1417.5,887.0) scale(1.035,1.06)">Gold</text>
<text class="lg" transform="translate(1417.5,980.5) scale(1.035,1.06)">Reference</text>
</svg></body></html>
